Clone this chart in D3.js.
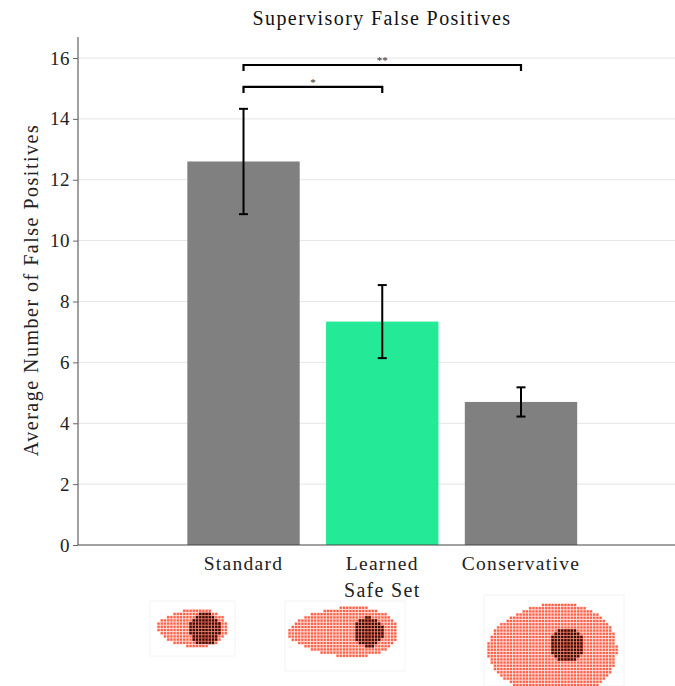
<!DOCTYPE html>
<html><head><meta charset="utf-8">
<script src="https://cdn.jsdelivr.net/npm/d3@7"></script>
<style>body{margin:0;background:#fff}svg{display:block}</style>
</head><body>
<script>
const categories = ["Standard", "Learned", "Conservative"];
const means = [12.6, 7.34, 4.70];
const errors = [1.73, 1.20, 0.48];
const barColors = ["#808080", "#24EA97", "#808080"];
const yTicks = [0, 2, 4, 6, 8, 10, 12, 14, 16];
const sigPairs = [[0, 1], [0, 2]];
const sigLabels = ["*", "**"];
const sigLevels = [15.05, 15.77];
const titleText = "Supervisory False Positives";
const xLabel = "Safe Set";
const yLabel = "Average Number of False Positives";

const W = 675, H = 686;
const FONT = "'Liberation Serif', 'DejaVu Serif', serif";
const svg = d3.select("body").append("svg").attr("width", W).attr("height", H);

const y = d3.scaleLinear().domain([0, 16.69]).range([545, 37]);
const x = d3.scaleLinear().domain([-1.193, 3.11]).range([78, 675]);
const barW = 0.81;

// grid
svg.append("g").selectAll("line").data(yTicks.filter(t => t > 0)).join("line")
  .attr("x1", 78).attr("x2", W).attr("y1", d => y(d)).attr("y2", d => y(d))
  .attr("stroke", "#e5e5e5").attr("stroke-width", 1);

// bars
svg.append("g").selectAll("rect").data(means).join("rect")
  .attr("x", (d, i) => x(i - barW / 2)).attr("width", x(barW) - x(0))
  .attr("y", d => y(d)).attr("height", d => y(0) - y(d))
  .attr("fill", (d, i) => barColors[i]);

// error bars
const eg = svg.append("g").attr("stroke", "#000").attr("stroke-width", 2);
means.forEach((m, i) => {
  const cx = x(i);
  eg.append("line").attr("x1", cx).attr("x2", cx).attr("y1", y(m + errors[i])).attr("y2", y(m - errors[i]));
  [m + errors[i], m - errors[i]].forEach(v => {
    eg.append("line").attr("x1", cx - 4.5).attr("x2", cx + 4.5).attr("y1", y(v)).attr("y2", y(v));
  });
});

// axes
const yAxis = d3.axisLeft(y).tickValues(yTicks).tickSize(5).tickPadding(3);
const gy = svg.append("g").attr("transform", "translate(78,0)").call(yAxis);
gy.select(".domain").attr("stroke", "#444").attr("d", `M0,${y(0)}V37`);
gy.selectAll(".tick line").attr("stroke", "#666");
gy.selectAll("text").attr("font-family", FONT).attr("font-size", 19).attr("fill", "#222")
  .attr("letter-spacing", 0.5);

svg.append("line").attr("x1", 78).attr("x2", W).attr("y1", y(0)).attr("y2", y(0))
  .attr("stroke", "#444").attr("stroke-width", 1.2);

svg.append("g").selectAll("text").data(categories).join("text")
  .attr("x", (d, i) => x(i)).attr("y", 570).attr("text-anchor", "middle")
  .attr("font-family", FONT).attr("font-size", 19.5).attr("letter-spacing", 1.3)
  .attr("fill", "#222").text(d => d);

svg.append("text").attr("x", x(1)).attr("y", 597).attr("text-anchor", "middle")
  .attr("font-family", FONT).attr("font-size", 20).attr("letter-spacing", 1.3)
  .attr("fill", "#222").text(xLabel);

svg.append("text").attr("transform", "translate(38,290) rotate(-90)").attr("text-anchor", "middle")
  .attr("font-family", FONT).attr("font-size", 20).attr("letter-spacing", 1.5)
  .attr("fill", "#222").text(yLabel);

svg.append("text").attr("x", 382).attr("y", 25).attr("text-anchor", "middle")
  .attr("font-family", FONT).attr("font-size", 20).attr("letter-spacing", 1.4)
  .attr("fill", "#111").text(titleText);

// significance brackets
sigPairs.forEach((p, k) => {
  const x1 = x(p[0]), x2 = x(p[1]), yy = y(sigLevels[k]);
  svg.append("path").attr("d", `M${x1},${yy + 6}V${yy}H${x2}V${yy + 6}`)
    .attr("fill", "none").attr("stroke", "#000").attr("stroke-width", 2.2);
  svg.append("text").attr("x", (x1 + x2) / 2).attr("y", yy - 1).attr("text-anchor", "middle")
    .attr("font-family", FONT).attr("font-size", 11).attr("fill", "#1a2a4a").text(sigLabels[k]);
});

// safe set illustrations (pixel grids)
const shapes = [
  {tipX: 157, rightX: 228, cy: 628, halfH: 22, k: 0.5, cx: 205, ccy: 629, r: 16, box: [150, 601, 85, 55]},
  {tipX: 288, rightX: 398, cy: 632, halfH: 29, k: 0.6, cx: 369, ccy: 632, r: 15, box: [285, 601, 120, 70]},
  {tipX: 487, rightX: 617, cy: 650, halfH: 53, k: 0.35, cx: 567, ccy: 645, r: 17, box: [484, 595, 140, 91]}
];
const cell = 3.2;
const gImg = svg.append("g");
shapes.forEach(s => {
  gImg.append("rect").attr("x", s.box[0]).attr("y", s.box[1]).attr("width", s.box[2]).attr("height", s.box[3])
    .attr("fill", "none").attr("stroke", "#f4f4f4").attr("stroke-width", 1);
  const L = s.rightX - s.tipX;
  const cells = [];
  for (let px = s.tipX; px <= s.rightX; px += cell) {
    for (let py = s.cy - s.halfH - cell; py <= s.cy + s.halfH + cell; py += cell) {
      const u = (px + cell / 2 - s.tipX) / L;
      if (u < 0 || u > 1) continue;
      const h = s.halfH * 2 * Math.sqrt(u * (1 - u)) * Math.pow((1 + u) / 2, s.k) / Math.pow(0.85, s.k) * 0.92;
      const dy = py + cell / 2 - s.cy;
      if (Math.abs(dy) <= h) {
        const inC = Math.hypot(px + cell / 2 - s.cx, py + cell / 2 - s.ccy) <= s.r;
        cells.push({px, py, inC});
      }
    }
  }
  gImg.append("g").selectAll("rect").data(cells).join("rect")
    .attr("x", d => d.px).attr("y", d => d.py).attr("width", cell).attr("height", cell)
    .attr("fill", d => d.inC ? "#e0553f" : "#ffd6cf");
  gImg.append("g").selectAll("rect").data(cells).join("rect")
    .attr("x", d => d.px + 0.5).attr("y", d => d.py + 0.5).attr("width", cell - 1).attr("height", cell - 1)
    .attr("fill", d => d.inC ? "#2b0d08" : "#ff5e45");
});
</script>
</body></html>
